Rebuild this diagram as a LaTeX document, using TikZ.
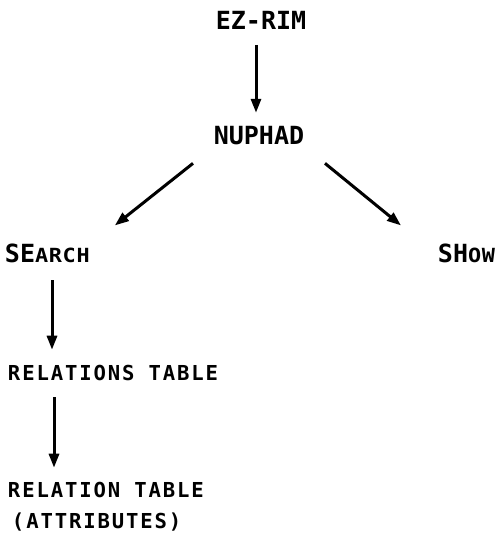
\documentclass[tikz,border=0pt]{standalone}
\usepackage{fontspec}
\usetikzlibrary{arrows.meta}
\newfontfamily\labfont{DejaVu Sans Mono Bold}
\newfontfamily\labsc[LetterSpace=3]{DejaVu Sans Mono Bold}
\newfontfamily\labsp[LetterSpace=9]{DejaVu Sans Mono Bold}
\newcommand{\bigf}{\labfont\fontsize{25pt}{28pt}\selectfont}
\newcommand{\smcap}[1]{\scalebox{1.12}[1]{\labsc\fontsize{19.5pt}{22pt}\selectfont #1}}
\newcommand{\tabf}{\labsp\fontsize{20.6pt}{31pt}\selectfont}
\tikzset{
  lab/.style={inner sep=0pt, outer sep=0pt},
  arr/.style={line width=3pt, -{Triangle[length=14pt,width=10pt]}},
}
\begin{document}
\begin{tikzpicture}[x=1pt,y=1pt]
\useasboundingbox (0,0) rectangle (498,-535);
\node[lab, anchor=base] (ez) at (261,-30) {\bigf EZ-RIM};
\node[lab, anchor=base] (nup) at (259,-144) {\bigf NUPHAD};
\node[lab, anchor=base west] (search) at (5,-262) {\bigf SE\smcap{ARCH}};
\node[lab, anchor=base east] (show) at (495,-262) {\bigf SH\smcap{OW}};
\node[lab, anchor=base west, font=\tabf] (rel1) at (8,-380) {RELATIONS TABLE};
\node[lab, anchor=base west, align=left, font=\tabf] (rel2) at (8,-528) {RELATION TABLE\\\hspace{4pt}(ATTRIBUTES)};
\draw[arr] ([xshift=-5pt,yshift=-15pt]ez.south) -- ([xshift=-3pt,yshift=13pt]nup.north);
\draw[arr] ([shift={(-66pt,-19pt)}]nup.south) -- ([shift={(67.5pt,18pt)}]search.north);
\draw[arr] ([shift={(66pt,-19pt)}]nup.south) -- ([shift={(-65.5pt,18pt)}]show.north);
\draw[arr] ([shift={(47pt,-18pt)}]search.south west) -- ([shift={(44pt,15pt)}]rel1.north west);
\draw[arr] ([shift={(46pt,-17pt)}]rel1.south west) -- ([shift={(46pt,14pt)}]rel2.north west);
\end{tikzpicture}
\end{document}
